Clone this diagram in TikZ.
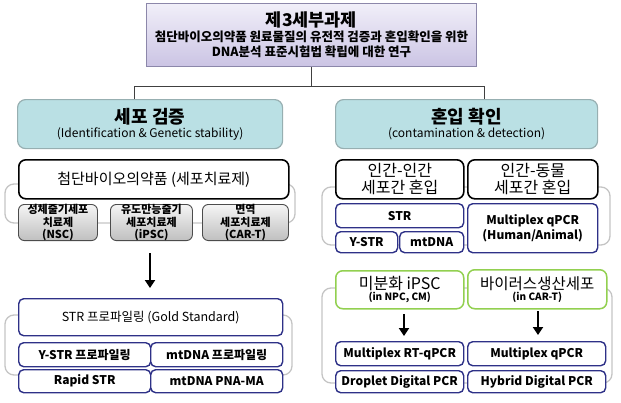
\documentclass[tikz,border=0pt]{standalone}
\usepackage{fontspec}
\setmainfont{Noto Sans CJK KR}
\usetikzlibrary{arrows.meta}
\definecolor{navyb}{HTML}{2E3187}
\definecolor{grn}{HTML}{92D050}
\definecolor{brk}{HTML}{C4C4C4}
\definecolor{hdrfill}{HTML}{BAE0E4}
\definecolor{hdrdraw}{HTML}{97AFB1}
\definecolor{topdraw}{HTML}{8C87AA}
\definecolor{toptop}{HTML}{F1EFF9}
\definecolor{topbot}{HTML}{CBC4E4}
\newcommand\bx[7]{\node[#1, anchor=north west, minimum width={#5pt-#3pt}, minimum height={#6pt-#4pt}, inner sep=0pt, align=center] (#2) at (#3,#4) {#7};}
\tikzset{
  graybr/.style={draw=brk, line width=1.3pt, rounded corners=9pt},
  navybox/.style={draw=navyb, line width=1.4pt, fill=white, rounded corners=5pt, font=\fontsize{12}{14}\selectfont\bfseries},
  blkbox/.style={draw=black, line width=1.6pt, fill=white, rounded corners=7pt},
  grnbox/.style={draw=grn, line width=1.5pt, fill=white, rounded corners=7pt},
  subbox/.style={draw=black!70, line width=0.9pt, top color=white!96!black, bottom color=black!25, rounded corners=6pt, font=\fontsize{11}{12.3}\selectfont\bfseries},
  hdrbox/.style={draw=hdrdraw, line width=1.2pt, fill=hdrfill, rounded corners=8pt},
  topbox/.style={draw=topdraw, line width=1pt, top color=toptop, bottom color=topbot},
  conn/.style={draw=black!75, line width=0.7pt},
  bigarrow/.style={line width=2.6pt, -{Triangle[width=10pt,length=8pt]}}
}
\begin{document}
\begin{tikzpicture}[x=1pt,y=-1pt]
\useasboundingbox (0,0) rectangle (621,402);
% title
\bx{topbox, font=\fontsize{12.5}{15}\selectfont\bfseries}{top}{146}{3}{476}{66}{{\fontsize{17.5}{20}\selectfont 제3세부과제}\\
첨단바이오의약품 원료물질의 유전적 검증과 혼입확인을 위한\\
DNA분석 표준시험법 확립에 대한 연구}
% headers
\bx{hdrbox, font=\fontsize{12}{14}\selectfont}{lh}{17}{99}{282}{148}{{\fontsize{18}{21}\selectfont\bfseries 세포 검증}\\(Identification \& Genetic stability)}
\bx{hdrbox, font=\fontsize{12}{14}\selectfont}{rh}{335}{99}{597}{148}{{\fontsize{18}{21}\selectfont\bfseries 혼입 확인}\\(contamination \& detection)}
\draw[conn] (top.south) -- ++(0,19) -| ([xshift=-16pt]lh.north);
\draw[conn] (top.south) -- ++(0,19) -| ([xshift=18pt]rh.north);
% left upper
\draw[graybr] (5,184) rectangle (295,223);
\bx{blkbox, font=\fontsize{15}{17}\selectfont}{cell}{18}{159}{288}{198}{첨단바이오의약품 (세포치료제)}
\bx{subbox}{nsc}{18}{204}{97}{239}{성체줄기세포\\치료제\\(NSC)}
\bx{subbox}{ipsc}{110}{204}{192}{239}{유도만능줄기\\세포치료제\\(iPSC)}
\bx{subbox}{cart}{202}{204}{288}{239}{면역\\세포치료제\\(CAR-T)}
\coordinate (la1) at (150,253);
\coordinate (la2) at (150,288);
\draw[bigarrow] (la1) -- (la2);
% left lower
\draw[graybr] (5,315) rectangle (292,375);
\bx{navybox, font=\fontsize{12.5}{15}\selectfont}{strp}{18}{298}{282}{335}{STR 프로파일링 (Gold Standard)}
\bx{navybox}{ystrp}{18}{342}{150}{366}{Y-STR 프로파일링}
\bx{navybox}{mtp}{150}{342}{282}{366}{mtDNA 프로파일링}
\bx{navybox}{rapid}{18}{369}{150}{392}{Rapid STR}
\bx{navybox}{pna}{150}{369}{282}{392}{mtDNA PNA-MA}
% right upper
\draw[graybr] (322,187) rectangle (610,245);
\bx{blkbox, font=\fontsize{16}{17}\selectfont}{hh}{335}{159}{463}{198}{인간-인간\\세포간 혼입}
\bx{blkbox, font=\fontsize{16}{17}\selectfont}{ha}{467}{159}{597}{198}{인간-동물\\세포간 혼입}
\bx{navybox}{str}{335}{203}{463}{227}{STR}
\bx{navybox}{ystr}{335}{231}{397}{252}{Y-STR}
\bx{navybox}{mtdna}{399}{231}{463}{252}{mtDNA}
\bx{navybox, font=\fontsize{12}{15}\selectfont\bfseries}{mqpcr}{467}{203}{597}{252}{Multiplex qPCR\\(Human/Animal)}
% right lower
\draw[graybr] (322,288) rectangle (612,383);
\bx{grnbox, font=\fontsize{10}{11}\selectfont\bfseries}{undiff}{335}{270}{463}{308}{{\fontsize{16}{18}\mdseries\selectfont 미분화 iPSC}\\(in NPC, CM)}
\bx{grnbox, font=\fontsize{10}{11}\selectfont\bfseries}{virus}{467}{269}{606}{308}{{\fontsize{15.5}{18}\mdseries\selectfont 바이러스생산세포}\\(in CAR-T)}
\bx{navybox}{rtq}{335}{341}{463}{365}{Multiplex RT-qPCR}
\bx{navybox}{mq}{467}{341}{605}{365}{Multiplex qPCR}
\bx{navybox}{ddpcr}{335}{370}{463}{392}{Droplet Digital PCR}
\bx{navybox}{hdpcr}{467}{370}{605}{392}{Hybrid Digital PCR}
\coordinate (ra1) at (404,314);
\coordinate (ra2) at (404,336);
\coordinate (rb1) at (538,311);
\coordinate (rb2) at (538,335);
\draw[bigarrow] (ra1) -- (ra2);
\draw[bigarrow] (rb1) -- (rb2);
\end{tikzpicture}
\end{document}
